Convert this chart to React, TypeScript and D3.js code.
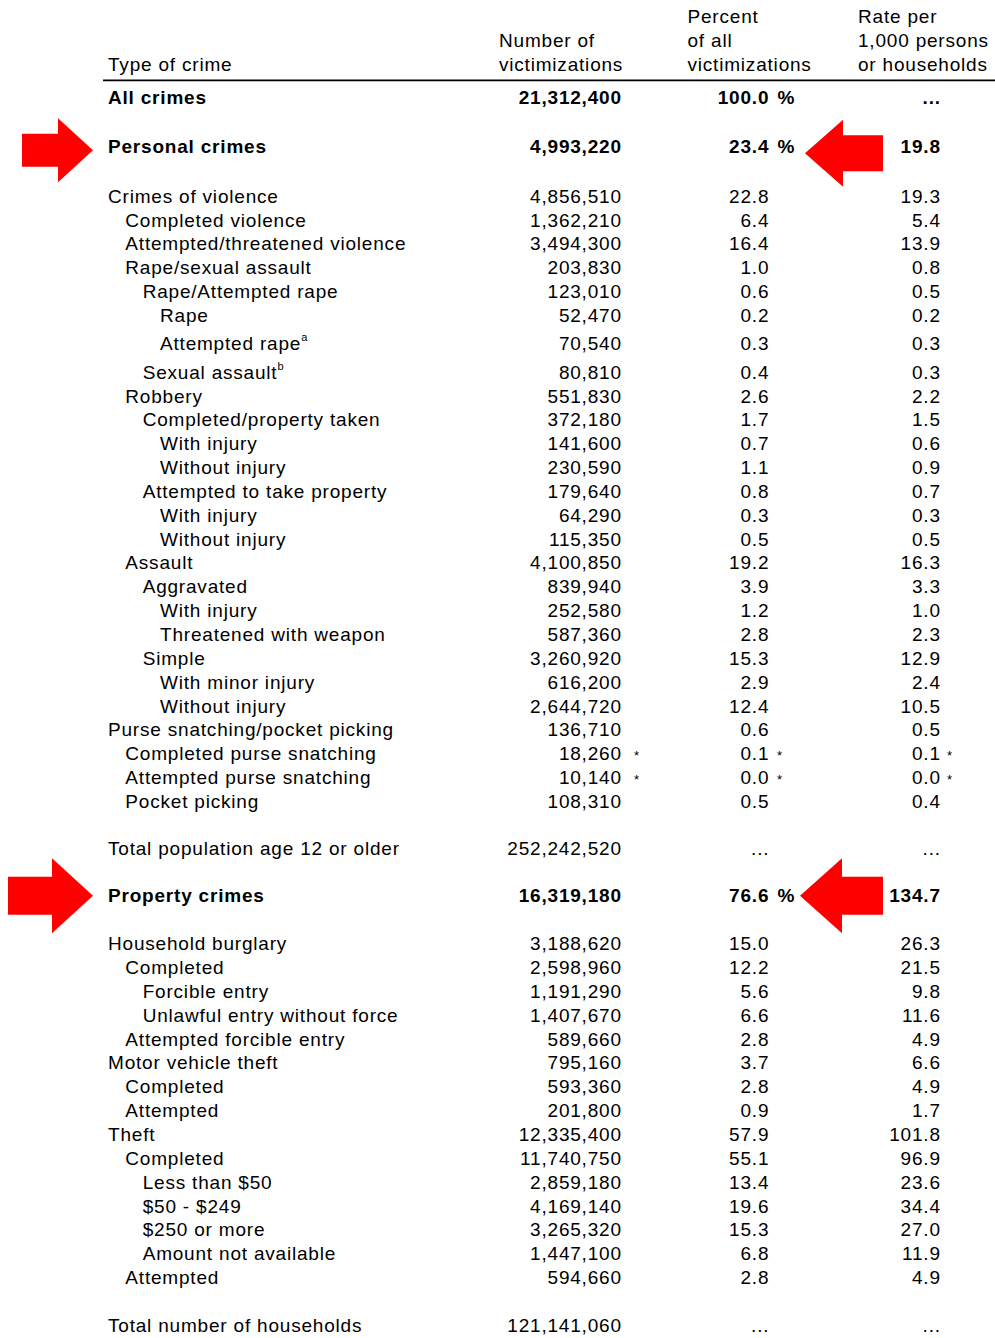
import React from "react";
import * as d3 from "d3";

// ---------- DATA ----------
const headerType = ["Type of crime"];
const headerNumber = ["Number of", "victimizations"];
const headerPercent = ["Percent", "of all", "victimizations"];
const headerRate = ["Rate per", "1,000 persons", "or households"];

const rowLabels = [
  "All crimes",
  "Personal crimes",
  "Crimes of violence",
  "Completed violence",
  "Attempted/threatened violence",
  "Rape/sexual assault",
  "Rape/Attempted rape",
  "Rape",
  "Attempted rape",
  "Sexual assault",
  "Robbery",
  "Completed/property taken",
  "With injury",
  "Without injury",
  "Attempted to take property",
  "With injury",
  "Without injury",
  "Assault",
  "Aggravated",
  "With injury",
  "Threatened with weapon",
  "Simple",
  "With minor injury",
  "Without injury",
  "Purse snatching/pocket picking",
  "Completed purse snatching",
  "Attempted purse snatching",
  "Pocket picking",
  "Total population age 12 or older",
  "Property crimes",
  "Household burglary",
  "Completed",
  "Forcible entry",
  "Unlawful entry without force",
  "Attempted forcible entry",
  "Motor vehicle theft",
  "Completed",
  "Attempted",
  "Theft",
  "Completed",
  "Less than $50",
  "$50 - $249",
  "$250 or more",
  "Amount not available",
  "Attempted",
  "Total number of households",
];

const rowLevels = [
  0, 0, 0, 1, 1, 1, 2, 3, 3, 2, 1, 2, 3, 3, 2, 3, 3, 1, 2, 3, 3, 2, 3, 3, 0, 1, 1, 1,
  0, 0, 0, 1, 2, 2, 1, 0, 1, 1, 0, 1, 2, 2, 2, 2, 1, 0,
];

// blank lines in the table before each row
const rowBlankBefore = [
  0, 1, 1, 0, 0, 0, 0, 0, 0, 0, 0, 0, 0, 0, 0, 0, 0, 0, 0, 0, 0, 0, 0, 0, 0, 0, 0, 0,
  1, 1, 1, 0, 0, 0, 0, 0, 0, 0, 0, 0, 0, 0, 0, 0, 0, 1,
];

const rowCounts = [
  21312400, 4993220, 4856510, 1362210, 3494300, 203830, 123010, 52470, 70540, 80810,
  551830, 372180, 141600, 230590, 179640, 64290, 115350, 4100850, 839940, 252580,
  587360, 3260920, 616200, 2644720, 136710, 18260, 10140, 108310, 252242520,
  16319180, 3188620, 2598960, 1191290, 1407670, 589660, 795160, 593360, 201800,
  12335400, 11740750, 2859180, 4169140, 3265320, 1447100, 594660, 121141060,
];

const rowPercents: (number | null)[] = [
  100.0, 23.4, 22.8, 6.4, 16.4, 1.0, 0.6, 0.2, 0.3, 0.4, 2.6, 1.7, 0.7, 1.1, 0.8, 0.3,
  0.5, 19.2, 3.9, 1.2, 2.8, 15.3, 2.9, 12.4, 0.6, 0.1, 0.0, 0.5, null, 76.6, 15.0,
  12.2, 5.6, 6.6, 2.8, 3.7, 2.8, 0.9, 57.9, 55.1, 13.4, 19.6, 15.3, 6.8, 2.8, null,
];

const rowRates: (number | null)[] = [
  null, 19.8, 19.3, 5.4, 13.9, 0.8, 0.5, 0.2, 0.3, 0.3, 2.2, 1.5, 0.6, 0.9, 0.7, 0.3,
  0.5, 16.3, 3.3, 1.0, 2.3, 12.9, 2.4, 10.5, 0.5, 0.1, 0.0, 0.4, null, 134.7, 26.3,
  21.5, 9.8, 11.6, 4.9, 6.6, 4.9, 1.7, 101.8, 96.9, 23.6, 34.4, 27.0, 11.9, 4.9, null,
];

const boldRows = ["All crimes", "Personal crimes", "Property crimes"];
const footnoteRows = ["Attempted rape", "Sexual assault"];
const footnoteMarks = ["a", "b"];
const estimateRows = ["Completed purse snatching", "Attempted purse snatching"];
const highlightedRows = ["Personal crimes", "Property crimes"];

// ---------- LAYOUT ----------
const W = 995;
const H = 1338;
const FONT = "'Liberation Sans', Arial, Helvetica, sans-serif";
const FS = 19;
const LS = 0.8;

const levelX = d3.scaleLinear().domain([0, 3]).range([108, 160]);
const colCountRight = 621;
const colPctRight = 768.5;
const colRateRight = 940;

const rowPitch = 23.85;
const blankHeights = [25.5, 25.5, 23.5, 23.05, 24.15, 24.25];
const footnoteExtra = 4.5;
const firstBaseline = 104;

const fmtCount = d3.format(",");
const fmtOne = d3.format(".1f");

function computeBaselines(): number[] {
  const ys: number[] = [];
  let y = firstBaseline;
  let gapNo = 0;
  rowLabels.forEach((lab, i) => {
    if (i > 0) {
      y += rowPitch;
      for (let k = 0; k < rowBlankBefore[i]; k++) {
        y += blankHeights[Math.min(gapNo, blankHeights.length - 1)];
        gapNo++;
      }
      if (footnoteRows.includes(lab) && rowLevels[i] >= 2) y += footnoteExtra;
    }
    ys.push(y);
  });
  return ys;
}

function arrowPath(
  tipX: number,
  tailX: number,
  cy: number,
  headLen: number,
  headH: number,
  shaftH: number
) {
  const dir = tipX > tailX ? 1 : -1;
  const baseX = tipX - dir * headLen;
  const p = d3.path();
  p.moveTo(tailX, cy - shaftH / 2);
  p.lineTo(baseX, cy - shaftH / 2);
  p.lineTo(baseX, cy - headH / 2);
  p.lineTo(tipX, cy);
  p.lineTo(baseX, cy + headH / 2);
  p.lineTo(baseX, cy + shaftH / 2);
  p.lineTo(tailX, cy + shaftH / 2);
  p.closePath();
  return p.toString();
}

export default function App() {
  const ys = computeBaselines();

  const textProps = {
    fontFamily: FONT,
    fontSize: FS,
    letterSpacing: LS,
    fill: "#000",
  } as const;

  const arrowSpecs = highlightedRows.map((lab, k) => {
    const i = rowLabels.indexOf(lab);
    const y = ys[i];
    if (k === 0) {
      return [
        arrowPath(93, 22, y - 3, 35, 64, 33),
        arrowPath(805, 883, y, 38, 67, 36),
      ];
    }
    return [
      arrowPath(93, 8, y - 6.5, 41, 75, 38),
      arrowPath(800, 883, y - 6.5, 42, 75, 38),
    ];
  });

  return (
    <svg
      width={W}
      height={H}
      viewBox={`0 0 ${W} ${H}`}
      style={{ position: "absolute", left: 0, top: 0, background: "#fff" }}
    >
      <rect x={0} y={0} width={W} height={H} fill="#fff" />

      {/* Header */}
      <text {...textProps} x={levelX(0)} y={71}>
        {headerType[0]}
      </text>
      {headerNumber.map((t, j) => (
        <text key={"hn" + j} {...textProps} x={499} y={47 + j * 24}>
          {t}
        </text>
      ))}
      {headerPercent.map((t, j) => (
        <text key={"hp" + j} {...textProps} x={687.5} y={23 + j * 24}>
          {t}
        </text>
      ))}
      {headerRate.map((t, j) => (
        <text key={"hr" + j} {...textProps} x={858} y={23 + j * 24}>
          {t}
        </text>
      ))}
      <line x1={103} x2={W} y1={80.3} y2={80.3} stroke="#000" strokeWidth={1.8} />

      {/* Rows */}
      {rowLabels.map((lab, i) => {
        const y = ys[i];
        const bold = boldRows.includes(lab);
        const fw = bold ? "bold" : "normal";
        const fnIdx = footnoteRows.indexOf(lab);
        const est = estimateRows.includes(lab);
        const pct = rowPercents[i];
        const rate = rowRates[i];
        return (
          <g key={"r" + i}>
            <text {...textProps} fontWeight={fw} x={levelX(rowLevels[i])} y={y}>
              {lab}
              {fnIdx >= 0 && rowLevels[i] >= 2 ? (
                <tspan fontSize={11} dy={-9} dx={0}>
                  {footnoteMarks[fnIdx]}
                </tspan>
              ) : null}
            </text>
            <text {...textProps} fontWeight={fw} x={colCountRight + LS} y={y} textAnchor="end">
              {fmtCount(rowCounts[i])}
            </text>
            <text {...textProps} fontWeight={fw} x={colPctRight + LS} y={y} textAnchor="end">
              {pct === null ? "..." : fmtOne(pct)}
            </text>
            {bold && pct !== null ? (
              <text {...textProps} fontWeight={fw} x={777.5} y={y}>
                %
              </text>
            ) : null}
            <text {...textProps} fontWeight={fw} x={colRateRight + LS} y={y} textAnchor="end">
              {rate === null ? "..." : fmtOne(rate)}
            </text>
            {est ? (
              <g>
                <text fontFamily={FONT} fontSize={13} x={634} y={y}>
                  *
                </text>
                <text fontFamily={FONT} fontSize={13} x={777} y={y}>
                  *
                </text>
                <text fontFamily={FONT} fontSize={13} x={947} y={y}>
                  *
                </text>
              </g>
            ) : null}
          </g>
        );
      })}

      {/* Highlight arrows */}
      {arrowSpecs.map((pair, k) =>
        pair.map((d, j) => <path key={"a" + k + j} d={d} fill="#ff0000" />)
      )}
    </svg>
  );
}
